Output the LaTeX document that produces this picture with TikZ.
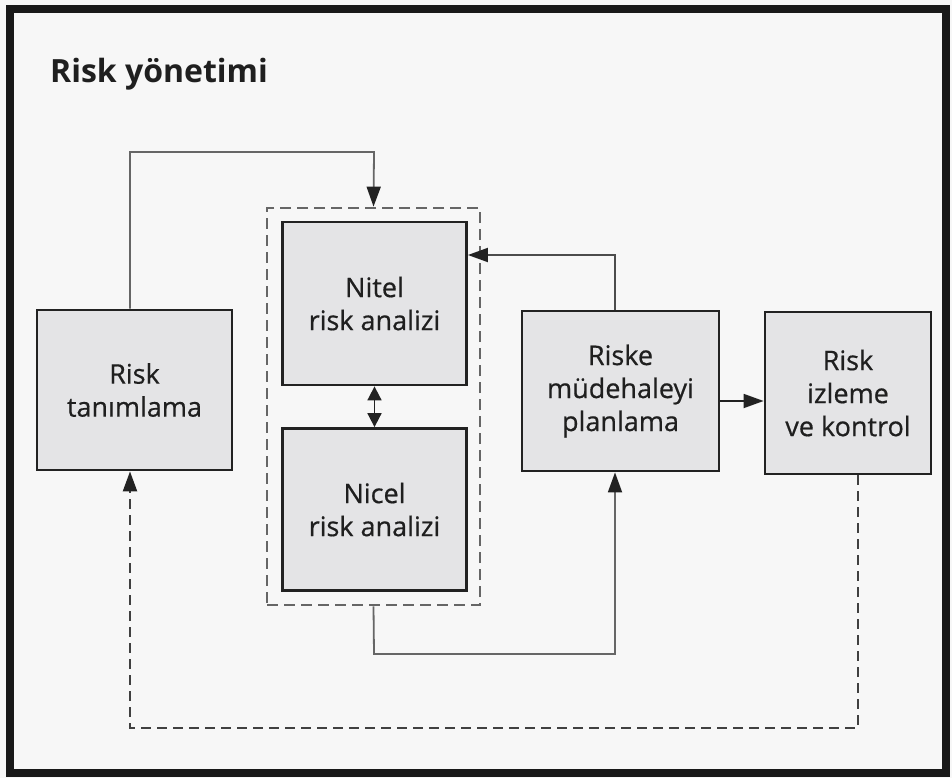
\documentclass[tikz,border=0pt]{standalone}
\usepackage{fontspec}
\setmainfont{Open Sans}
\newfontfamily\boxfont[FakeBold=0.6]{Open Sans}
\usetikzlibrary{arrows.meta,positioning}
\definecolor{boxfill}{HTML}{E4E4E6}
\definecolor{bg}{HTML}{F7F7F7}
\definecolor{conn}{HTML}{666666}
\definecolor{edge}{HTML}{222222}
\begin{document}
\begin{tikzpicture}[x=1pt,y=-1pt,
  procbox/.style={draw=edge,line width=2.8pt,fill=boxfill,inner sep=0pt,
    align=center,font=\boxfont\fontsize{27}{33}\selectfont,text=black!88},
  link/.style={draw=conn,line width=1.8pt},
  tip/.style={-{Triangle[length=20pt,width=14pt,color=edge]}},
  loopdash/.style={draw=black!75,line width=2.2pt,dash pattern=on 10pt off 6pt}]
  % page and frame
  \useasboundingbox (0,0) rectangle (952,778);
  \fill[bg] (0,0) rectangle (952,778);
  \draw[line width=8pt,draw=black!90] (10,9) rectangle (946,773);
  \node[anchor=base west,inner sep=0pt,font=\fontsize{32}{38}\selectfont\bfseries,text=black!88]
    (title) at (50,83) {Risk yönetimi};

  % process boxes
  \node[procbox,minimum width=195pt,minimum height=160pt] (tan) at (134.5,390) {Risk\\tanımlama};
  \node[procbox,minimum width=184pt,minimum height=163pt] (nitel) at (374.5,303.5) {Nitel\\risk analizi};
  \node[procbox,minimum width=184pt,minimum height=162pt] (nicel) at (374.5,509.5) {Nicel\\risk analizi};
  \node[procbox,minimum width=197pt,minimum height=160pt] (plan) at (620.5,391) {Riske\\müdehaleyi\\planlama};
  \node[procbox,minimum width=166pt,minimum height=162pt] (izle) at (848,393) {Risk\\izleme\\ve kontrol};

  % dashed group around the two analysis steps
  \node[draw=black!60,line width=2.8pt,dash pattern=on 11pt off 6pt,
    minimum width=213pt,minimum height=397pt,inner sep=0pt] (grp) at (373.5,406.5) {};

  % connectors
  \coordinate (c1) at (130,152);
  \coordinate (c2) at (374,152);
  \draw[link,tip] (tan.north -| c1) -- (c1) -- (c2) -- (grp.north);
  \coordinate (c3) at (615,255);
  \draw[link,draw=black!70,tip] (plan.north -| c3) -- (c3) -- (c3 -| nitel.east);
  \draw[draw=edge,line width=1.8pt,{Triangle[length=14pt,width=14pt]}-{Triangle[length=14pt,width=14pt]}]
    (nitel.south) -- (nicel.north);
  \coordinate (c4) at (374,654);
  \coordinate (c5) at (615,654);
  \draw[link,tip] (grp.south) -- (c4) -- (c5) -- (c5 |- plan.south);
  \draw[draw=edge,line width=1.8pt,tip] (plan.east |- 0,401) -- (izle.west |- 0,401);
  \coordinate (c6) at (858,728);
  \coordinate (c7) at (130,728);
  \draw[loopdash,tip] (izle.south -| c6) -- (c6) -- (c7) -- (c7 |- tan.south);
\end{tikzpicture}
\end{document}
